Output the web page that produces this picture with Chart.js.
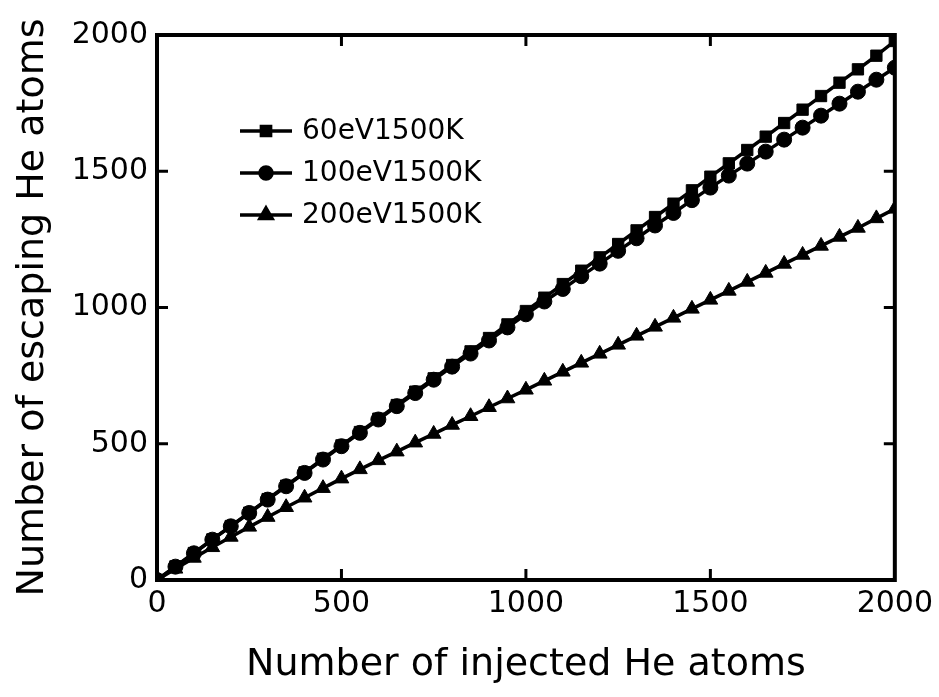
<!DOCTYPE html>
<html>
<head>
<meta charset="utf-8">
<script src="https://cdn.jsdelivr.net/npm/chart.js@4/dist/chart.umd.min.js"></script>
<style>
  body { margin: 0; background: #fff; }
  #chart { display: block; }
</style>
</head>
<body>
<canvas id="chart" width="939" height="697"></canvas>
<script>
// injected He atoms (x), one point every 50
const injected = [0, 50, 100, 150, 200, 250, 300, 350, 400, 450, 500, 550, 600, 650, 700, 750, 800, 850, 900, 950,
  1000, 1050, 1100, 1150, 1200, 1250, 1300, 1350, 1400, 1450, 1500, 1550, 1600, 1650, 1700, 1750, 1800, 1850, 1900, 1950, 2000];

// escaping He atoms
const escape60 = [0, 50, 99, 149, 198, 247, 297, 346, 395, 445, 494, 543, 592, 642, 691, 740, 789, 839, 888, 938,
  987, 1036, 1086, 1135, 1184, 1233, 1283, 1332, 1381, 1430, 1480, 1529, 1578, 1627, 1677, 1726, 1776, 1825, 1874, 1924, 1978];
const escape100 = [0, 49, 98, 148, 197, 246, 295, 344, 393, 442, 491, 540, 589, 638, 686, 735, 783, 831, 879, 927,
  975, 1022, 1068, 1115, 1161, 1208, 1254, 1301, 1347, 1394, 1440, 1484, 1528, 1572, 1616, 1660, 1704, 1748, 1792, 1836, 1880];
const escape200 = [0, 41, 81, 120, 158, 195, 231, 267, 302, 337, 372, 406, 439, 471, 504, 536, 569, 601, 634, 666,
  698, 731, 764, 797, 830, 863, 896, 929, 962, 995, 1028, 1061, 1094, 1127, 1160, 1193, 1226, 1259, 1292, 1327, 1362];

const seriesNames = ["60eV1500K", "100eV1500K", "200eV1500K"];
const seriesMarkers = ["rect", "circle", "triangle"];
const tickValues = [0, 500, 1000, 1500, 2000];

const FONT = "'DejaVu Sans', sans-serif";

const toPoints = (ys) => injected.map((x, i) => ({ x: x, y: ys[i] }));

const makeSet = (label, ys, style, r) => ({
  label: label,
  data: toPoints(ys),
  borderColor: "#000",
  backgroundColor: "#000",
  borderWidth: 3.5,
  pointStyle: style,
  pointRadius: r,
  pointBorderWidth: 1,
  pointBackgroundColor: "#000",
  pointBorderColor: "#000",
  tension: 0
});

// box, inward ticks and the inside legend
const framePlugin = {
  id: "frame",
  afterDraw(chart) {
    const ctx = chart.ctx;
    const a = chart.chartArea;
    const xs = chart.scales.x, ys = chart.scales.y;
    ctx.save();
    ctx.strokeStyle = "#000";
    ctx.lineWidth = 4;
    ctx.strokeRect(a.left, a.top, a.right - a.left, a.bottom - a.top);
    ctx.lineWidth = 3;
    tickValues.slice(1, -1).forEach(v => {
      const px = xs.getPixelForValue(v);
      const py = ys.getPixelForValue(v);
      ctx.beginPath();
      ctx.moveTo(px, a.bottom); ctx.lineTo(px, a.bottom - 11);
      ctx.moveTo(px, a.top); ctx.lineTo(px, a.top + 11);
      ctx.moveTo(a.left, py); ctx.lineTo(a.left + 11, py);
      ctx.moveTo(a.right, py); ctx.lineTo(a.right - 11, py);
      ctx.stroke();
    });

    // legend
    const lx = a.left + 83, ly = a.top + 96, gap = 42;
    chart.data.datasets.forEach((ds, i) => {
      const y = ly + i * gap;
      ctx.lineWidth = 3.5;
      ctx.beginPath();
      ctx.moveTo(lx, y); ctx.lineTo(lx + 52, y);
      ctx.stroke();
      ctx.fillStyle = "#000";
      Chart.helpers.drawPoint(ctx, { pointStyle: ds.pointStyle, radius: ds.pointRadius - 1.5, rotation: 0, borderWidth: 1 }, lx + 26, y);
      ctx.font = "28px " + FONT;
      ctx.textBaseline = "middle";
      ctx.textAlign = "left";
      ctx.fillText(ds.label, lx + 62, y + 1);
    });
    ctx.restore();
  }
};

new Chart(document.getElementById("chart"), {
  type: "line",
  data: {
    datasets: [
      makeSet(seriesNames[0], escape60, seriesMarkers[0], 8),
      makeSet(seriesNames[1], escape100, seriesMarkers[1], 7.5),
      makeSet(seriesNames[2], escape200, seriesMarkers[2], 8.5)
    ]
  },
  options: {
    responsive: false,
    devicePixelRatio: 1,
    animation: false,
    layout: { padding: { top: 35, right: 42, left: 0, bottom: 0 } },
    plugins: {
      legend: { display: false },
      tooltip: { enabled: false }
    },
    scales: {
      x: {
        type: "linear",
        min: 0,
        max: 2000,
        afterFit: (s) => { s.height = 117; },
        afterBuildTicks: (s) => { s.ticks = tickValues.map(v => ({ value: v })); },
        grid: { display: false, drawTicks: false },
        border: { display: false },
        ticks: { color: "#000", font: { family: FONT, size: 30 }, padding: 6, maxRotation: 0, callback: (v) => String(v) },
        title: {
          display: true,
          text: "Number of injected He atoms",
          color: "#000",
          font: { family: FONT, size: 38 },
          padding: { top: 4, bottom: 9 }
        }
      },
      y: {
        type: "linear",
        min: 0,
        max: 2000,
        afterFit: (s) => { s.width = 157; },
        afterBuildTicks: (s) => { s.ticks = tickValues.map(v => ({ value: v })); },
        grid: { display: false, drawTicks: false },
        border: { display: false },
        ticks: { color: "#000", font: { family: FONT, size: 30 }, padding: 9, callback: (v) => String(v) },
        title: {
          display: true,
          text: "Number of escaping He atoms",
          color: "#000",
          font: { family: FONT, size: 38 },
          padding: { top: 10, bottom: 0 }
        }
      }
    }
  },
  plugins: [framePlugin]
});
</script>
</body>
</html>
